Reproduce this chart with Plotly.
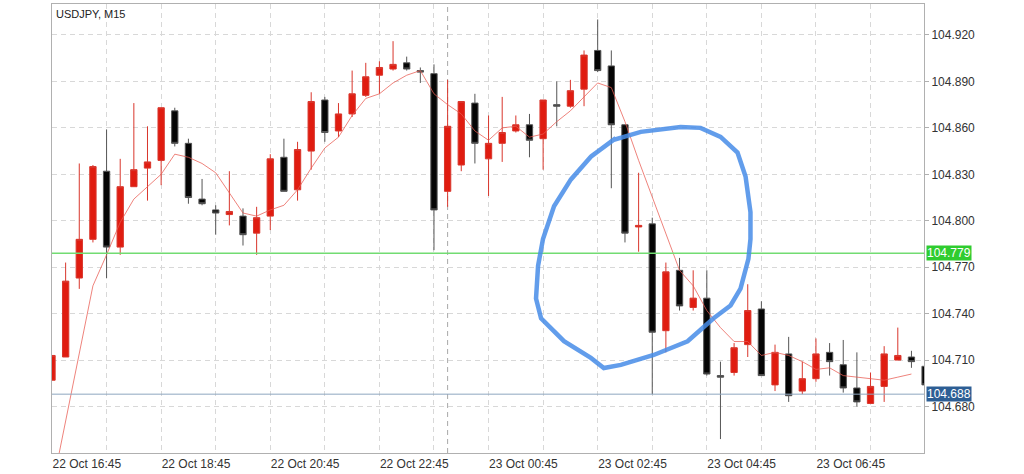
import plotly.graph_objects as go

# ---- data ----
TIME_LABELS = ["22 Oct 16:45", "22 Oct 18:45", "22 Oct 20:45", "22 Oct 22:45",
               "23 Oct 00:45", "23 Oct 02:45", "23 Oct 04:45", "23 Oct 06:45"]
LABEL_INDEX = [0, 8, 16, 24, 32, 40, 48, 56]

OPEN = [104.697, 104.712, 104.763, 104.788, 104.832, 104.783, 104.822, 104.834, 104.839, 104.871,
        104.850, 104.814, 104.807, 104.804, 104.803, 104.792, 104.803, 104.841, 104.820, 104.845,
        104.878, 104.858, 104.869, 104.881, 104.894, 104.898, 104.902, 104.897, 104.895, 104.819,
        104.836, 104.876, 104.840, 104.850, 104.858, 104.862, 104.853, 104.875, 104.874, 104.885,
        104.910, 104.900, 104.862, 104.796, 104.798, 104.729, 104.768, 104.744, 104.750, 104.700,
        104.702, 104.720, 104.743, 104.694, 104.714, 104.690, 104.698, 104.715, 104.707, 104.692,
        104.682, 104.693, 104.710, 104.712, 104.706]
HIGH = [104.713, 104.773, 104.837, 104.836, 104.859, 104.840, 104.876, 104.861, 104.873, 104.873,
        104.853, 104.827, 104.810, 104.832, 104.808, 104.809, 104.843, 104.853, 104.851, 104.883,
        104.880, 104.876, 104.897, 104.902, 104.903, 104.916, 104.906, 104.899, 104.901, 104.891,
        104.877, 104.882, 104.868, 104.880, 104.868, 104.869, 104.878, 104.890, 104.891, 104.910,
        104.930, 104.910, 104.862, 104.831, 104.802, 104.773, 104.776, 104.768, 104.768, 104.709,
        104.721, 104.759, 104.748, 104.720, 104.725, 104.709, 104.724, 104.721, 104.723, 104.715,
        104.702, 104.719, 104.731, 104.716, 104.706]
LOW = [104.697, 104.712, 104.756, 104.786, 104.763, 104.778, 104.822, 104.813, 104.823, 104.848,
       104.811, 104.810, 104.791, 104.797, 104.784, 104.778, 104.794, 104.819, 104.813, 104.833,
       104.851, 104.854, 104.867, 104.880, 104.882, 104.897, 104.897, 104.889, 104.781, 104.809,
       104.832, 104.837, 104.816, 104.838, 104.857, 104.841, 104.833, 104.861, 104.873, 104.874,
       104.896, 104.821, 104.786, 104.780, 104.688, 104.715, 104.742, 104.742, 104.700, 104.659,
       104.700, 104.712, 104.700, 104.690, 104.683, 104.688, 104.696, 104.700, 104.689, 104.680,
       104.682, 104.683, 104.710, 104.705, 104.694]
CLOSE = [104.713, 104.761, 104.788, 104.835, 104.783, 104.822, 104.833, 104.838, 104.873, 104.850,
         104.815, 104.811, 104.805, 104.806, 104.791, 104.802, 104.840, 104.819, 104.846, 104.877,
         104.857, 104.869, 104.882, 104.893, 104.899, 104.901, 104.898, 104.896, 104.807, 104.861,
         104.877, 104.850, 104.850, 104.857, 104.862, 104.852, 104.878, 104.874, 104.884, 104.907,
         104.897, 104.862, 104.792, 104.797, 104.728, 104.767, 104.745, 104.750, 104.701, 104.699,
         104.718, 104.742, 104.700, 104.715, 104.687, 104.698, 104.714, 104.709, 104.692, 104.683,
         104.693, 104.714, 104.713, 104.709, 104.694]
MA = [104.627, 104.671, 104.715, 104.758, 104.778, 104.799, 104.814, 104.822, 104.830, 104.843,
      104.841, 104.837, 104.831, 104.818, 104.805, 104.803, 104.807, 104.810, 104.820, 104.834,
      104.847, 104.854, 104.868, 104.879, 104.882, 104.889, 104.894, 104.897, 104.882, 104.875,
      104.869, 104.858, 104.852, 104.860, 104.861, 104.854, 104.856, 104.864, 104.871, 104.880,
      104.889, 104.886, 104.864, 104.839, 104.815, 104.792, 104.768, 104.758, 104.742, 104.731,
      104.722, 104.722, 104.713, 104.715, 104.713, 104.709, 104.704, 104.705, 104.700, 104.699,
      104.698, 104.697, 104.699, 104.701]

PRICE_TICKS = [104.680, 104.710, 104.740, 104.770, 104.800, 104.830, 104.860, 104.890, 104.920]
LEVEL_GREEN = 104.779
LEVEL_BLUE = 104.688
DAY_SEPARATOR_INDEX = 29   # 23 Oct 00:00

# hand-drawn highlight loop (candle index, price)
SCRIBBLE_X = [39.5, 41.18, 43.16, 46.08, 47.54, 49.01, 50.25, 50.84, 51.2, 51.2, 51.05, 50.47,
              49.74, 48.5, 46.59, 44.11, 41.7, 40.45, 39.5, 37.53, 35.85, 35.48, 35.63, 35.99,
              36.8, 38.04, 39.5, 41.33]
SCRIBBLE_Y = [104.8414, 104.8523, 104.8574, 104.8606, 104.8600, 104.8542, 104.8440, 104.8286,
              104.8055, 104.7882, 104.7754, 104.7562, 104.7453, 104.7370, 104.7222, 104.7133,
              104.7069, 104.7049, 104.7114, 104.7222, 104.7370, 104.7498, 104.7709, 104.7882,
              104.8094, 104.8267, 104.8414, 104.8535]

FONT = "Liberation Sans, Arial, sans-serif"
idx = list(range(len(OPEN)))

fig = go.Figure()
fig.add_trace(go.Candlestick(
    x=idx, open=OPEN, high=HIGH, low=LOW, close=CLOSE,
    increasing=dict(line=dict(color="#d9362c", width=1), fillcolor="#e01c10"),
    decreasing=dict(line=dict(color="#555555", width=1), fillcolor="#050505"),
    whiskerwidth=0, showlegend=False, hoverinfo="skip"))
fig.add_trace(go.Scatter(
    x=idx[:len(MA)], y=MA, mode="lines",
    line=dict(color="rgba(232,90,80,0.75)", width=1),
    showlegend=False, hoverinfo="skip"))

grid_dash = "5px,4px"
fig.update_layout(
    width=1024, height=474,
    margin=dict(l=52, r=100, t=3, b=19, pad=0),
    paper_bgcolor="white", plot_bgcolor="white",
    font=dict(family=FONT, size=12, color="#333"),
    boxgap=0.34,
    xaxis=dict(
        range=[0, 63.92], rangeslider=dict(visible=False),
        tickvals=LABEL_INDEX, ticktext=TIME_LABELS,
        ticklabelposition="outside right", ticks="", ticklen=0,
        tickfont=dict(size=12, color="#333"),
        showgrid=True, gridcolor="#d8d8d8", griddash=grid_dash, gridwidth=1,
        minor=dict(dtick=4, tick0=0, showgrid=True, gridcolor="#d8d8d8",
                   griddash=grid_dash, gridwidth=1, ticks=""),
        showline=True, linecolor="#b0b0b0", linewidth=1, mirror=True,
        zeroline=False, fixedrange=True),
    yaxis=dict(
        side="right", range=[104.650, 104.940],
        tickvals=PRICE_TICKS, ticktext=[f"{v:.3f}" for v in PRICE_TICKS],
        ticks="outside", ticklen=4, tickcolor="#b0b0b0",
        tickfont=dict(size=12, color="#333"),
        showgrid=True, gridcolor="#d8d8d8", griddash=grid_dash, gridwidth=1,
        showline=True, linecolor="#b0b0b0", linewidth=1, mirror=True,
        zeroline=False, fixedrange=True),
)

# day separator
fig.add_shape(type="line", xref="x", yref="paper", x0=DAY_SEPARATOR_INDEX, x1=DAY_SEPARATOR_INDEX,
              y0=0, y1=1, line=dict(color="#a8a8a8", width=1, dash=grid_dash), layer="below")
# price levels
fig.add_shape(type="line", xref="paper", yref="y", x0=0, x1=1, y0=LEVEL_GREEN, y1=LEVEL_GREEN,
              line=dict(color="#72dc72", width=1.3))
fig.add_shape(type="line", xref="paper", yref="y", x0=0, x1=1, y0=LEVEL_BLUE, y1=LEVEL_BLUE,
              line=dict(color="#8ea6bf", width=1))
fig.add_annotation(xref="paper", yref="y", x=1, y=LEVEL_GREEN, xanchor="left", xshift=2,
                   text=f"{LEVEL_GREEN:.3f}", showarrow=False, bgcolor="#2fcc2f", borderpad=0,
                   font=dict(size=12, color="white", family=FONT))
fig.add_annotation(xref="paper", yref="y", x=1, y=LEVEL_BLUE, xanchor="left", xshift=2,
                   text=f"{LEVEL_BLUE:.3f}", showarrow=False, bgcolor="#2d5e94", borderpad=0,
                   font=dict(size=12, color="white", family=FONT))
# title
fig.add_annotation(xref="paper", yref="paper", x=0, y=1, xanchor="left", yanchor="top",
                   xshift=2, yshift=-2, text="USDJPY, M15", showarrow=False,
                   font=dict(size=11, color="#222", family=FONT))
# hand-drawn highlight
path = "M " + " L ".join(f"{x},{y}" for x, y in zip(SCRIBBLE_X, SCRIBBLE_Y))
fig.add_shape(type="path", xref="x", yref="y", path=path,
              line=dict(color="rgba(70,140,232,0.85)", width=4.5))

fig.write_html("out.html", config={"displayModeBar": False, "staticPlot": True},
               post_script="document.body.style.margin='0';document.body.style.overflow='hidden';")
